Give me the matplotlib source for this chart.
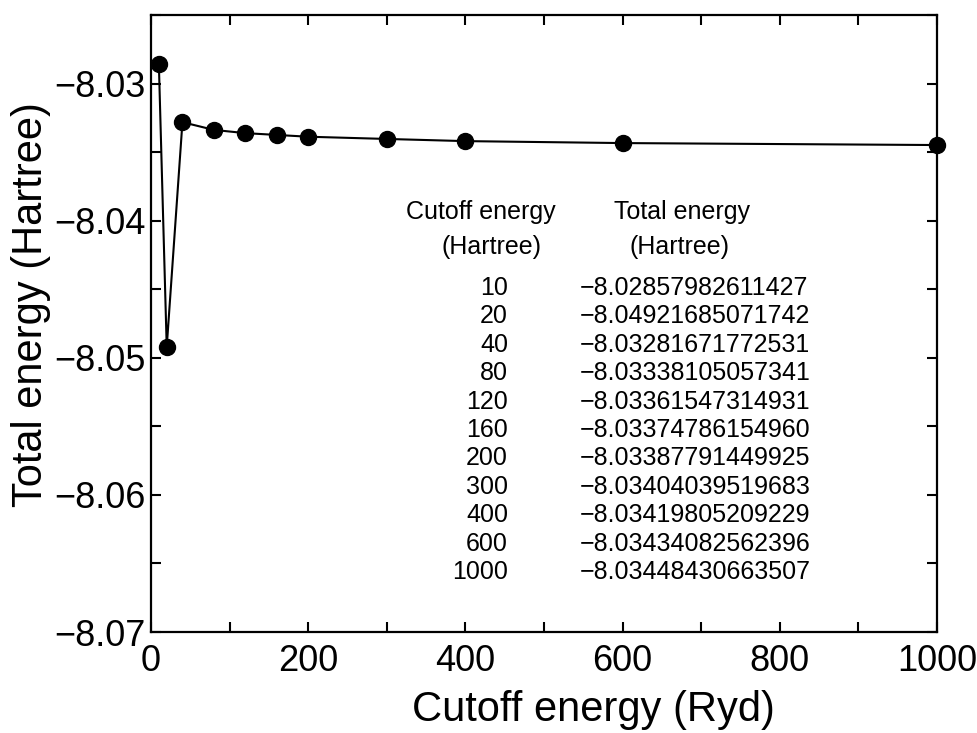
import matplotlib
matplotlib.use("Agg")
import matplotlib.pyplot as plt
from matplotlib.ticker import MultipleLocator

plt.rcParams['font.family'] = ['Liberation Sans', 'DejaVu Sans']
plt.rcParams['axes.unicode_minus'] = True

cutoff = [10, 20, 40, 80, 120, 160, 200, 300, 400, 600, 1000]
energy = [-8.02857982611427, -8.04921685071742, -8.03281671772531,
          -8.03338105057341, -8.03361547314931, -8.03374786154960,
          -8.03387791449925, -8.03404039519683, -8.03419805209229,
          -8.03434082562396, -8.03448430663507]

W, H = 978, 733
fig = plt.figure(figsize=(W / 100, H / 100), dpi=100)
ax = fig.add_axes([151 / W, 1 - 632 / H, (937 - 151) / W, (632 - 15) / H])

ax.plot(cutoff, energy, color='black', lw=1.5, marker='o', ms=11.5,
        clip_on=False, zorder=3)

ax.set_xlim(0, 1000)
ax.set_ylim(-8.07, -8.025)
ax.xaxis.set_major_locator(MultipleLocator(200))
ax.xaxis.set_minor_locator(MultipleLocator(100))
ax.yaxis.set_major_locator(MultipleLocator(0.01))
ax.yaxis.set_minor_locator(MultipleLocator(0.005))
ax.yaxis.set_major_formatter(plt.FuncFormatter(lambda v, p: f"{v:.2f}".replace('-', '\u2212')))
ax.tick_params(which='both', direction='in', top=True, right=True,
               length=7.5, width=1.5, labelsize=26)
ax.tick_params(axis='x', pad=8.5)
ax.tick_params(axis='y', pad=4)
for s in ax.spines.values():
    s.set_linewidth(1.6)

ax.set_xlabel('Cutoff energy (Ryd)', fontsize=30)
ax.set_ylabel('Total energy (Hartree)', fontsize=30)
ax.xaxis.set_label_coords((593 - 151) / (937 - 151), -(710 - 632) / (632 - 15))
ax.yaxis.set_label_coords(-(151 - 31) / (937 - 151), (632 - 305) / (632 - 15))
ax.xaxis.label.set_va('center')
ax.yaxis.label.set_va('center')

# table text in pixel coordinates
def px(x, y):
    return x / W, 1 - y / H

fs = 18
fig.text(*px(481, 212), 'Cutoff energy', ha='center', va='center', fontsize=fs)
fig.text(*px(492, 247), '(Hartree)', ha='center', va='center', fontsize=fs)
fig.text(*px(682, 212), 'Total energy', ha='center', va='center', fontsize=fs)
fig.text(*px(680, 247), '(Hartree)', ha='center', va='center', fontsize=fs)
y0, dy = 288, 28.4
for i, (c, e) in enumerate(zip(cutoff, energy)):
    y = y0 + i * dy
    fig.text(*px(508, y), str(c), ha='right', va='center', fontsize=fs)
    fig.text(*px(580, y), f"{e:.14f}".replace('-', '\u2212'), ha='left',
             va='center', fontsize=fs)

fig.savefig('out.png', dpi=100)
